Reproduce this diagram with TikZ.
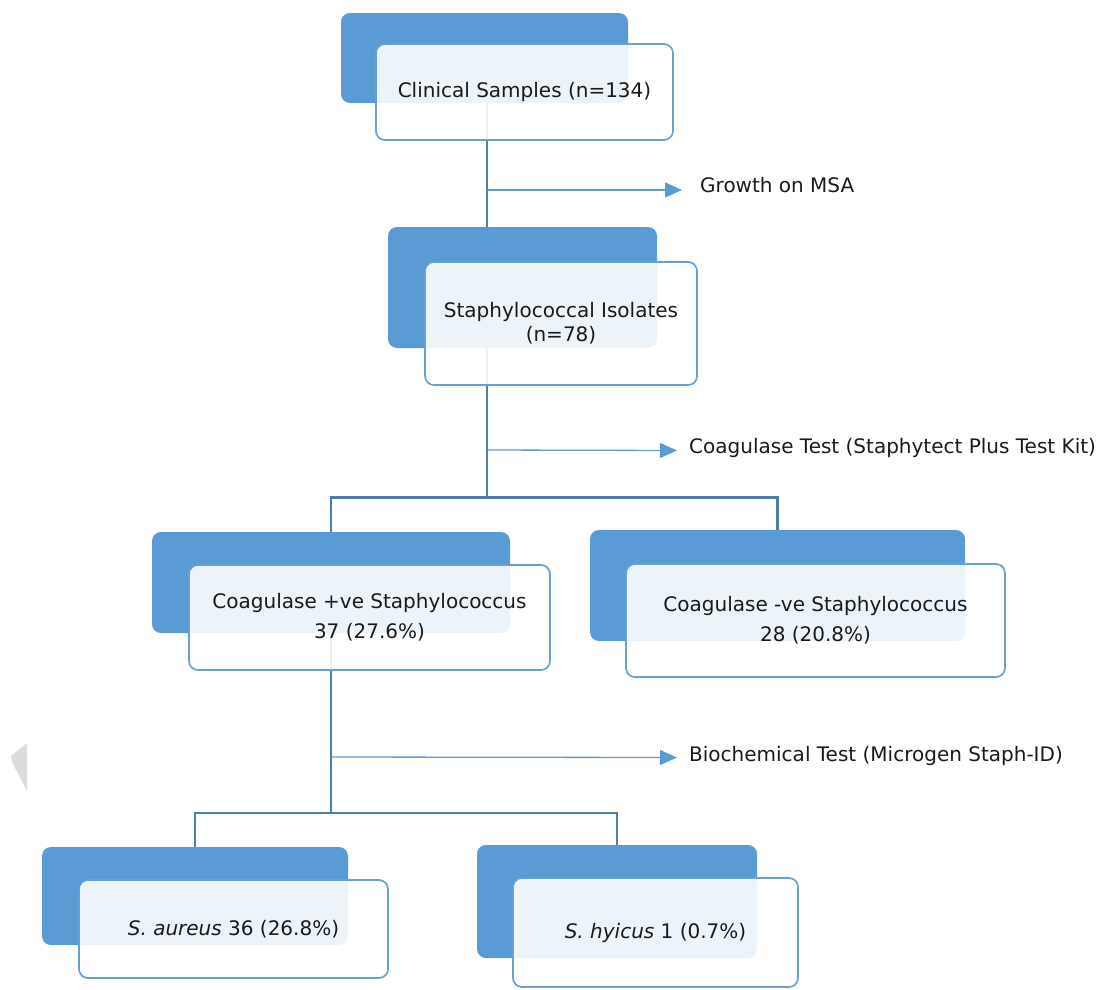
\documentclass[tikz,border=0pt]{standalone}
\usepackage{fontspec}
\setmainfont{DejaVu Sans}
\usetikzlibrary{arrows.meta,calc}
\definecolor{darkblue}{HTML}{5B9BD5}
\definecolor{edgeblue}{HTML}{6A9FD2}
\definecolor{lineblue}{HTML}{4F7DAD}
\definecolor{arrblue}{HTML}{6399CF}
\definecolor{wmgrey}{HTML}{DCDCDC}
\definecolor{textgrey}{HTML}{1A1A1A}
\tikzset{
  darkbox/.style={fill=darkblue, draw=none, rounded corners=9pt, inner sep=0pt, outer sep=0pt},
  whitebox/.style={fill=white, fill opacity=0.89, text opacity=1, draw=edgeblue, draw opacity=1, line width=1.7pt, rounded corners=9pt, inner sep=0pt, outer sep=0pt, align=center, text=textgrey, font=\fontsize{20}{24}\selectfont},
  mainline/.style={draw=lineblue, line width=2.3pt, line join=miter},
  arrline/.style={draw=arrblue, line width=1.3pt, -{Triangle[length=17pt 0,width=15pt 0,fill=darkblue,color=darkblue]}},
  steplabel/.style={anchor=base west, inner sep=0pt, font=\fontsize{20}{24}\selectfont, text=textgrey}
}
\begin{document}
\begin{tikzpicture}[x=1pt,y=-1pt]
\useasboundingbox (0,0) rectangle (1109,989);
% watermark fragment
\fill[wmgrey] (27,743) -- (11,756) -- (12,762) -- (27,791) -- cycle;

% dark back boxes
\node[darkbox, minimum width=287pt, minimum height=90pt] (d1) at (484.5,58) {};
\node[darkbox, minimum width=269pt, minimum height=121pt] (d2) at (522.5,287.5) {};
\node[darkbox, minimum width=358pt, minimum height=101pt] (d3) at (331,582.5) {};
\node[darkbox, minimum width=375pt, minimum height=111pt] (d4) at (777.5,585.5) {};
\node[darkbox, minimum width=306pt, minimum height=98pt] (d5) at (195,896) {};
\node[darkbox, minimum width=280pt, minimum height=113pt] (d6) at (617,901.5) {};

% junction coordinates
\coordinate (j1) at (487,190);
\coordinate (j2) at (487,450);
\coordinate (b1) at (487,497.5);
\coordinate (j3) at (331,757);
\coordinate (b2) at (331,813);

% labels
\node[steplabel] (l1) at (700,192) {Growth on MSA};
\node[steplabel] (l2) at (689,453) {Coagulase Test (Staphytect Plus Test Kit)};
\node[steplabel] (l3) at (689,761) {Biochemical Test (Microgen Staph-ID)};

% connectors
\draw[mainline] (d1.south -| j1) -- (d2.north -| j1);
\draw[mainline] (d2.south -| j1) -- (b1);
\draw[mainline] (d3.north) -- (d3.north |- b1) -- (d4.north |- b1) -- (d4.north);
\draw[mainline] (d3.south) -- (b2);
\draw[mainline] (d5.north) -- (d5.north |- b2) -- (d6.north |- b2) -- (d6.north);

\draw[arrline] (j1) -- (682,190);
\draw[arrline] (j2) -- (677,450.5);
\draw[arrline] (j3) -- (677,757.5);

% front boxes
\node[whitebox, minimum width=297pt, minimum height=96pt] (w1) at (524.5,92) {Clinical Samples (n=134)};
\node[whitebox, minimum width=272pt, minimum height=123pt] (w2) at (561,323.5) {Staphylococcal Isolates\\(n=78)};
\node[whitebox, minimum width=361pt, minimum height=105pt] (w3) at (369.5,617.5) {Coagulase +ve Staphylococcus\\[6pt]37 (27.6\%)};
\node[whitebox, minimum width=379pt, minimum height=113pt] (w4) at (815.5,620.5) {Coagulase -ve Staphylococcus\\[6pt]28 (20.8\%)};
\node[whitebox, minimum width=309pt, minimum height=98pt] (w5) at (233.5,929) {\itshape S. aureus\upshape{} 36 (26.8\%)};
\node[whitebox, minimum width=285pt, minimum height=109pt] (w6) at (655.5,932.5) {\itshape S. hyicus\upshape{} 1 (0.7\%)};
\end{tikzpicture}
\end{document}
